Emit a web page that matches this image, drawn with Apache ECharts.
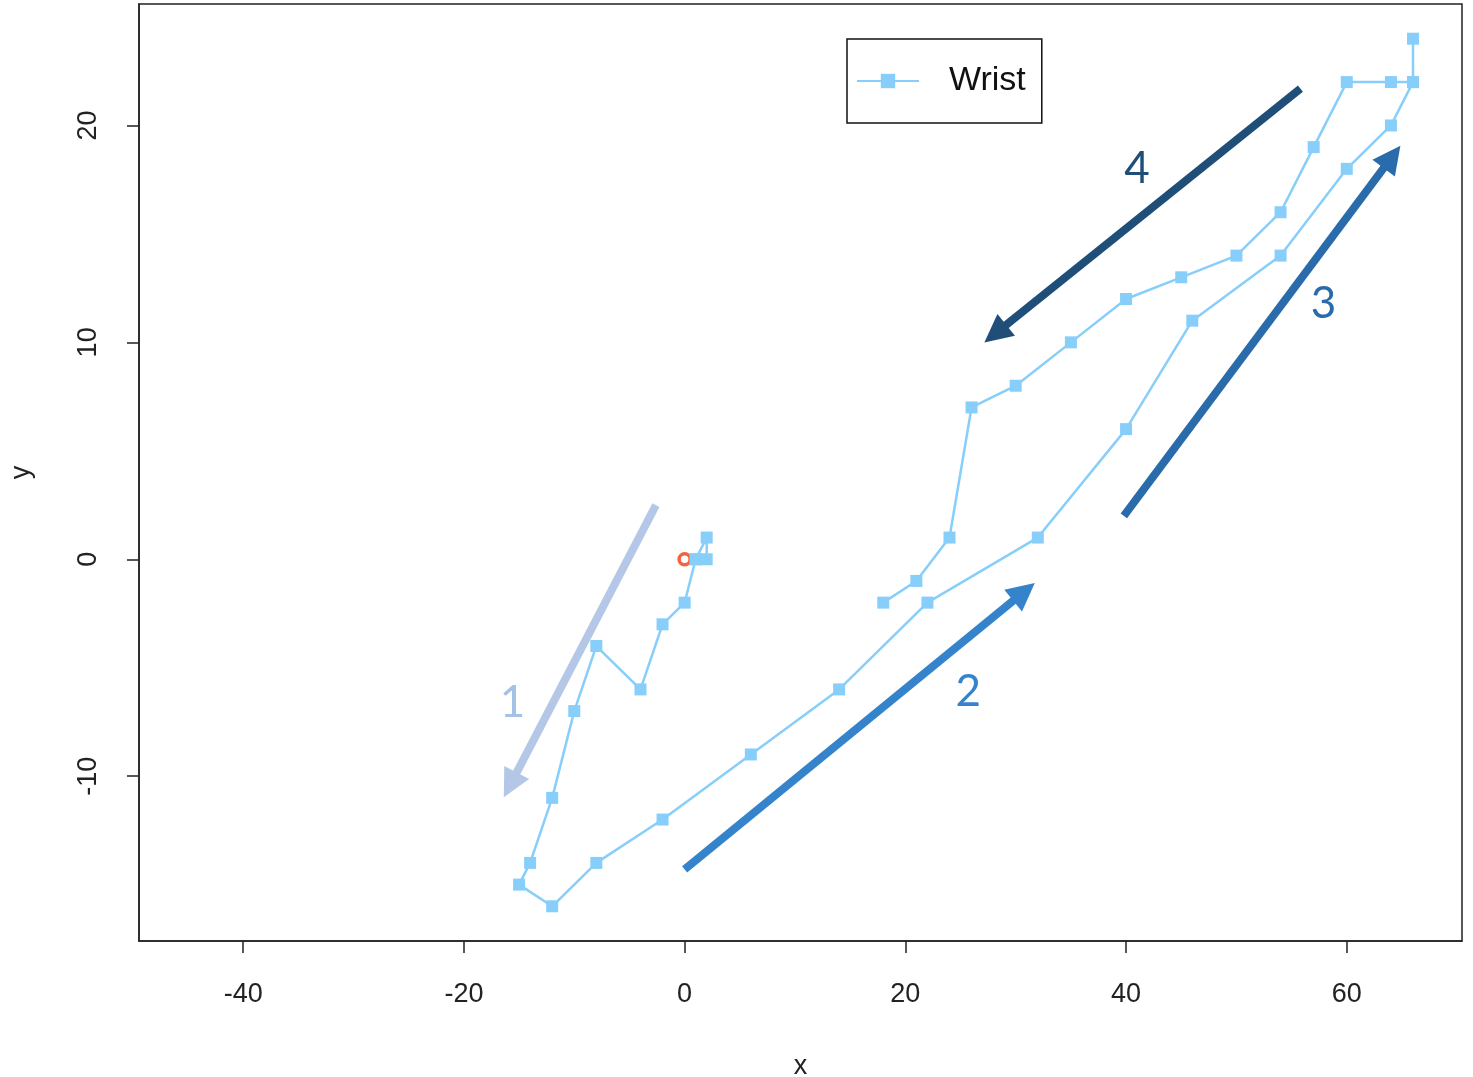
<!DOCTYPE html>
<html>
<head>
<meta charset="utf-8">
<script src="https://cdn.jsdelivr.net/npm/echarts@6/dist/echarts.min.js"></script>
<style>
html,body{margin:0;padding:0;background:#fff;}
#chart{width:1473px;height:1077px;}
</style>
</head>
<body>
<div id="chart"></div>
<script>
// Wrist trajectory (x, y) in order
const wristX = [1, 2, 2, 1, 0, -2, -4, -8, -10, -12, -14, -15, -12, -8, -2, 6, 14, 22, 32, 40, 46, 54, 60, 64, 66, 66, 66, 64, 60, 57, 54, 50, 45, 40, 35, 30, 26, 24, 21, 18];
const wristY = [0, 0, 1, 0, -2, -3, -6, -4, -7, -11, -14, -15, -16, -14, -12, -9, -6, -2, 1, 6, 11, 14, 18, 20, 22, 24, 22, 22, 22, 19, 16, 14, 13, 12, 10, 8, 7, 1, -1, -2];
// start point
const startPoint = [0, 0];
// tick labels
const xTicks = [-40, -20, 0, 20, 40, 60];
const yTicks = [-10, 0, 10, 20];
// annotation arrows (data units)
const arrowNames = ['1', '2', '3', '4'];
const arrowStart = [[-2.6, 2.5], [0, -14.3], [39.8, 2.0], [55.8, 21.7]];
const arrowEnd = [[-15.8, -10.4], [30.75, -1.5], [64.1, 18.55], [28.15, 10.4]];
const labelPos = [[-15.6, -6.6], [25.7, -6.1], [57.9, 11.8], [41.0, 18.0]];
const arrowColors = ['#b4c7e7', '#3483cb', '#2a6cab', '#1f4e79'];
const labelColors = ['#a4c2e4', '#3483cb', '#2a6cab', '#1f4e79'];

const wristData = wristX.map((x, i) => [x, wristY[i]]);

const chart = echarts.init(document.getElementById('chart'), null, {renderer: 'canvas'});
const axisFont = 'Liberation Sans, Arial, sans-serif';
chart.setOption({
  animation: false,
  backgroundColor: '#fff',
  grid: {left: 139, right: 11, top: 4, bottom: 136, show: true, borderColor: '#222', borderWidth: 1.5, containLabel: false, outerBoundsMode: 'none'},
  legend: {
    data: ['Wrist'],
    left: 847, top: 39,
    orient: 'vertical',
    borderColor: '#111', borderWidth: 1.5, borderRadius: 0,
    padding: [25, 16, 25, 9],
    itemWidth: 62, itemHeight: 18,
    textStyle: {fontFamily: axisFont, fontSize: 34, color: '#111', padding: [0, 0, 0, 25]}
  },
  xAxis: {
    type: 'value', min: -49.44, max: 70.44,
    name: 'x', nameLocation: 'middle', nameGap: 112,
    nameTextStyle: {fontFamily: axisFont, fontSize: 27, color: '#222'},
    axisLine: {show: true, onZero: false, lineStyle: {color: '#222', width: 1.5}},
    axisTick: {show: true, length: 12, inside: false, customValues: xTicks, lineStyle: {color: '#222', width: 1.5}},
    axisLabel: {customValues: xTicks, margin: 40, fontFamily: axisFont, fontSize: 27, color: '#222'},
    splitLine: {show: false}
  },
  yAxis: {
    type: 'value', min: -17.6, max: 25.6,
    name: 'y', nameLocation: 'middle', nameGap: 104,
    nameTextStyle: {fontFamily: axisFont, fontSize: 27, color: '#222'},
    axisLine: {show: true, onZero: false, lineStyle: {color: '#222', width: 1.5}},
    axisTick: {show: true, length: 12, customValues: yTicks, lineStyle: {color: '#222', width: 1.5}},
    axisLabel: {customValues: yTicks, rotate: 90, margin: 37, fontFamily: axisFont, fontSize: 27, color: '#222'},
    splitLine: {show: false}
  },
  series: [
    {
      name: 'start', type: 'scatter', data: [startPoint], z: 1,
      symbol: 'circle', symbolSize: 11,
      itemStyle: {color: 'rgba(0,0,0,0)', borderColor: '#f4623f', borderWidth: 3.5, opacity: 1},
      silent: true
    },
    {
      name: 'Wrist', type: 'line', data: wristData, z: 3,
      symbol: 'rect', symbolSize: 12, showAllSymbol: true,
      lineStyle: {color: '#87cefa', width: 2.5},
      itemStyle: {color: '#87cefa', borderWidth: 0},
      markLine: {
        silent: true,
        symbol: ['none', 'triangle'],
        symbolSize: 28,
        label: {show: false},
        emphasis: {disabled: true},
        data: arrowStart.map((s, i) => [
          {coord: s, lineStyle: {color: arrowColors[i], width: 8, type: 'solid', opacity: 1}},
          {coord: arrowEnd[i]}
        ])
      }
    },
    {
      name: 'annotations', type: 'scatter', z: 4,
      symbolSize: 0, silent: true,
      itemStyle: {opacity: 1},
      data: labelPos.map((p, i) => ({
        value: p, name: arrowNames[i],
        itemStyle: {color: labelColors[i], opacity: 1},
        label: {show: true, position: 'inside', formatter: '{b}', color: labelColors[i], opacity: 1, textBorderWidth: 0, fontFamily: 'Lato, Open Sans, sans-serif', fontSize: 44}
      }))
    }
  ]
});
</script>
</body>
</html>
